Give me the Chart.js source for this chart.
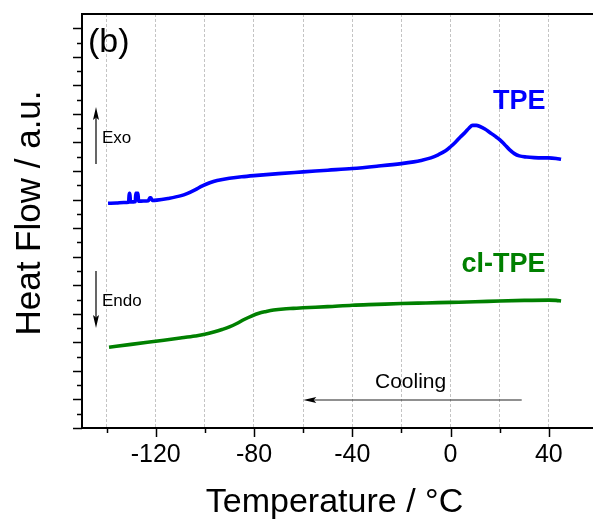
<!DOCTYPE html>
<html>
<head>
<meta charset="utf-8">
<script src="https://cdn.jsdelivr.net/npm/chart.js@4/dist/chart.umd.min.js"></script>
<style>
  html, body { margin: 0; padding: 0; background: #fff; }
  #wrap { width: 593px; height: 524px; }
</style>
</head>
<body>
<div id="wrap"><canvas id="dsc" width="593" height="524"></canvas></div>
<script>
// DSC cooling scans, heat flow in arbitrary units (curves are offset vertically)
const tpeTemp = [-139.4, -136, -133, -131.0, -130.8, -130.5, -130.3, -129, -128.3, -128.1, -127.2, -127.0,
  -125, -123, -122.4, -122.0, -121.4, -119.5, -115, -110, -107, -104, -101, -98, -95, -90, -85, -80,
  -70, -60, -50, -40, -30, -20, -15, -12, -8, -5, -2, 0, 2, 4, 6, 7.5, 9, 10.5, 12, 14, 16, 18, 20, 22,
  24, 26, 28, 31, 34, 37, 40, 43, 45];
const tpeFlow = [7.87, 7.88, 7.90, 7.91, 8.22, 8.22, 7.92, 7.92, 7.93, 8.22, 8.22, 7.94,
  7.95, 7.96, 8.06, 8.06, 7.97, 7.98, 8.04, 8.13, 8.22, 8.34, 8.48, 8.59, 8.67, 8.75, 8.80, 8.84,
  8.91, 8.97, 9.03, 9.09, 9.17, 9.26, 9.32, 9.37, 9.46, 9.57, 9.71, 9.85, 10.01, 10.19, 10.36, 10.50, 10.60, 10.60, 10.56, 10.47, 10.35, 10.23, 10.10, 9.93,
  9.75, 9.61, 9.53, 9.49, 9.47, 9.46, 9.46, 9.44, 9.41];

const clTemp = [-139, -130, -120, -110, -104, -100, -96, -93, -90, -87, -84, -81, -78, -75, -72, -68, -64, -60,
  -50, -40, -30, -20, -10, 0, 10, 20, 30, 40, 43, 45];
const clFlow = [2.83, 2.93, 3.04, 3.15, 3.22, 3.28, 3.37, 3.45, 3.54, 3.66, 3.80, 3.92, 4.02, 4.08, 4.13, 4.17, 4.19, 4.21,
  4.25, 4.30, 4.33, 4.36, 4.38, 4.40, 4.42, 4.45, 4.47, 4.48, 4.47, 4.45];

const xTickValues = [-140, -120, -100, -80, -60, -40, -20, 0, 20, 40];
const xTickLabels = [-120, -80, -40, 0, 40];

const FONT = "'Liberation Sans', Arial, sans-serif";
const BLUE = '#0000ff';
const GREEN = '#008000';

const toPoints = (xs, ys) => xs.map((x, i) => ({ x: x, y: ys[i] }));

function arrow(ctx, x1, y1, x2, y2) {
  const ang = Math.atan2(y2 - y1, x2 - x1);
  const len = 13, half = 3;
  ctx.beginPath();
  ctx.moveTo(x1, y1);
  ctx.lineTo(x2 - Math.cos(ang) * len * 0.8, y2 - Math.sin(ang) * len * 0.8);
  ctx.stroke();
  ctx.beginPath();
  ctx.moveTo(x2, y2);
  ctx.lineTo(x2 - Math.cos(ang) * len - Math.sin(ang) * half, y2 - Math.sin(ang) * len + Math.cos(ang) * half);
  ctx.lineTo(x2 - Math.cos(ang) * len * 0.8, y2 - Math.sin(ang) * len * 0.8);
  ctx.lineTo(x2 - Math.cos(ang) * len + Math.sin(ang) * half, y2 - Math.sin(ang) * len - Math.cos(ang) * half);
  ctx.closePath();
  ctx.fill();
}

const decor = {
  id: 'decor',
  afterDraw(chart) {
    const ctx = chart.ctx;
    const xs = chart.scales.x, ys = chart.scales.y;
    const area = chart.chartArea;
    ctx.save();
    ctx.strokeStyle = '#000';
    ctx.fillStyle = '#000';

    // top frame line
    ctx.lineWidth = 2;
    ctx.beginPath();
    ctx.moveTo(area.left - 1, area.top);
    ctx.lineTo(area.right, area.top);
    ctx.stroke();

    // tick marks, major and minor
    ctx.lineWidth = 1.5;
    xTickValues.forEach(v => {
      const px = Math.round(xs.getPixelForValue(v)) + 0.5;
      const len = xTickLabels.includes(v) ? 9 : 5;
      ctx.beginPath();
      ctx.moveTo(px, area.bottom);
      ctx.lineTo(px, area.bottom + len);
      ctx.stroke();
    });
    for (let k = 0; k <= 28; k++) {
      const v = k * 0.5;
      const py = Math.round(ys.getPixelForValue(v)) + 0.5;
      const len = k % 2 === 0 ? 9 : 5;
      ctx.beginPath();
      ctx.moveTo(area.left, py);
      ctx.lineTo(area.left - len, py);
      ctx.stroke();
    }

    // axis titles
    ctx.textAlign = 'center';
    ctx.textBaseline = 'alphabetic';
    ctx.font = '34px ' + FONT;
    ctx.fillText('Temperature / °C', 334.5, 512);
    ctx.save();
    ctx.translate(40, 213);
    ctx.rotate(-Math.PI / 2);
    ctx.font = '35px ' + FONT;
    ctx.fillText('Heat Flow / a.u.', 0, 0);
    ctx.restore();

    // panel label
    ctx.textAlign = 'left';
    ctx.font = '34px ' + FONT;
    ctx.fillText('(b)', 88, 52);

    // Exo / Endo markers
    ctx.lineWidth = 1.2;
    arrow(ctx, 96, 164, 96, 107);
    arrow(ctx, 96, 271, 96, 328);
    ctx.font = '17px ' + FONT;
    ctx.fillText('Exo', 102, 143);
    ctx.fillText('Endo', 102, 306);

    // series names
    ctx.font = 'bold 27px ' + FONT;
    ctx.fillStyle = BLUE;
    ctx.fillText('TPE', 493, 109);
    ctx.fillStyle = GREEN;
    ctx.fillText('cl-TPE', 461.5, 271.5);

    // cooling direction
    ctx.fillStyle = '#000';
    ctx.strokeStyle = '#222';
    ctx.font = '21px ' + FONT;
    ctx.fillText('Cooling', 375, 387.5);
    ctx.lineWidth = 1.2;
    arrow(ctx, 521.7, 400, 303.3, 400);
    ctx.restore();
  }
};

new Chart(document.getElementById('dsc'), {
  type: 'line',
  data: {
    datasets: [
      { label: 'TPE', data: toPoints(tpeTemp, tpeFlow), borderColor: BLUE, borderWidth: 3.6,
        pointRadius: 0, fill: false, cubicInterpolationMode: 'monotone' },
      { label: 'cl-TPE', data: toPoints(clTemp, clFlow), borderColor: GREEN, borderWidth: 3.6,
        pointRadius: 0, fill: false, cubicInterpolationMode: 'monotone' }
    ]
  },
  options: {
    responsive: false,
    animation: false,
    events: [],
    layout: { padding: { top: 14, right: 0, left: 0, bottom: 0 } },
    plugins: { legend: { display: false }, tooltip: { enabled: false } },
    scales: {
      x: {
        type: 'linear', min: -150, max: 58,
        afterFit: s => { s.height = 96; },
        afterBuildTicks: s => { s.ticks = xTickValues.map(v => ({ value: v })); },
        ticks: {
          callback: v => xTickLabels.includes(v) ? String(v) : '',
          font: { family: FONT, size: 25 }, color: '#000', padding: 12,
          maxRotation: 0, autoSkip: false
        },
        grid: { color: '#c4c4c4', lineWidth: 1, drawTicks: false },
        border: { display: true, color: '#000', width: 2, dash: [3, 2] }
      },
      y: {
        min: 0, max: 14.5,
        afterFit: s => { s.width = 82; },
        ticks: { display: false },
        grid: { display: false },
        border: { display: true, color: '#000', width: 2 }
      }
    }
  },
  plugins: [decor]
});
</script>
</body>
</html>
